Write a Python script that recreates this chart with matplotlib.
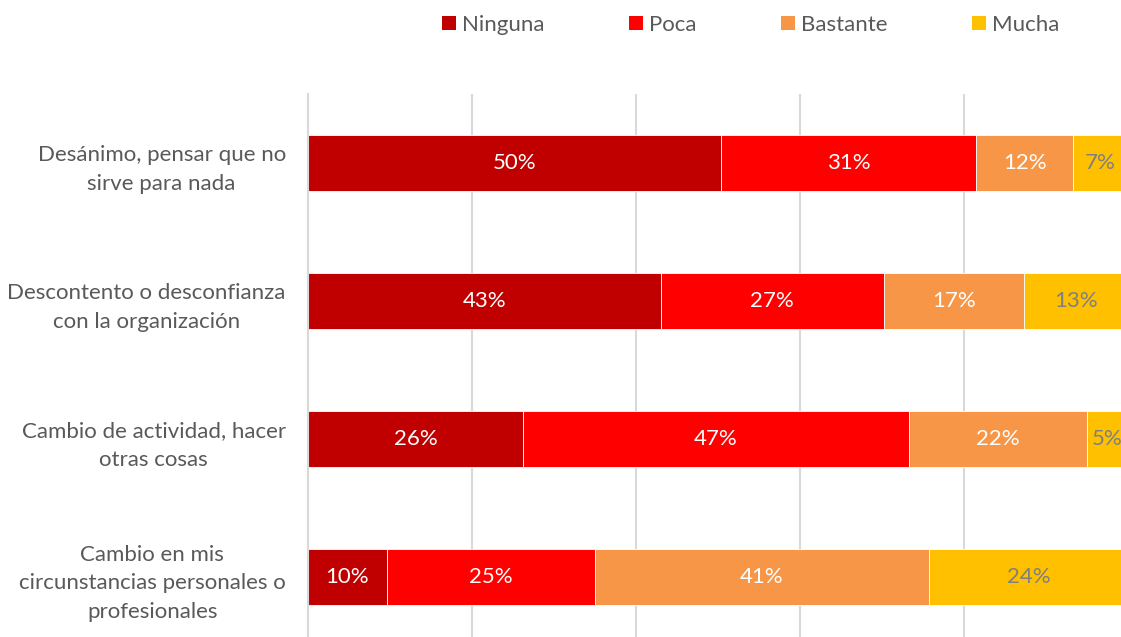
import matplotlib.pyplot as plt
from matplotlib.patches import Patch

plt.rcParams['font.family'] = ['Lato', 'DejaVu Sans']

# Datos (porcentajes por categoría)
categorias = ['Desánimo, pensar que no\nsirve para nada',
              'Descontento o desconfianza\ncon la organización',
              'Cambio de actividad, hacer\notras cosas',
              'Cambio en mis\ncircunstancias personales o\nprofesionales']
series = ['Ninguna', 'Poca', 'Bastante', 'Mucha']
ninguna = [50.4, 43.0, 26.2, 9.6]
poca = [31.1, 27.2, 47.1, 25.4]
bastante = [11.8, 17.1, 21.7, 40.7]
mucha = [6.7, 12.7, 5.0, 24.3]

colores = ['#C00000', '#FF0000', '#F79646', '#FFC000']
color_etiqueta = ['white', 'white', 'white', '#7F7F7F']
gris = '#595959'

W, H = 1121, 637
fig = plt.figure(figsize=(W / 100, H / 100), dpi=100)
# el área del gráfico sobresale un poco por la derecha y abajo, como en el original
ax = fig.add_axes([308 / W, 1 - 646 / H, 820 / W, 552 / H])

y = list(range(len(categorias)))
izq = [0] * len(categorias)
for nombre, vals, c, ce in zip(series, [ninguna, poca, bastante, mucha], colores, color_etiqueta):
    barras = ax.barh(y, vals, left=izq, height=0.4, color=c, edgecolor='white',
                     linewidth=0.6, label=nombre, zorder=2)
    ax.bar_label(barras, labels=[f'{v:.0f}%' for v in vals], label_type='center',
                 color=ce, fontsize=16)
    izq = [a + b for a, b in zip(izq, vals)]

ax.set_xlim(0, 100)
ax.set_ylim(3.5, -0.5)
ax.set_xticks([0, 20, 40, 60, 80, 100])
ax.xaxis.grid(True, color='#D9D9D9', linewidth=1.5, zorder=0)
ax.tick_params(axis='x', length=0, labelbottom=False)
ax.tick_params(axis='y', length=0, pad=16)
ax.set_yticks(y)
ax.set_yticklabels(categorias, fontsize=16, color=gris, multialignment='center',
                   linespacing=1.55)
for s in ['top', 'right', 'bottom']:
    ax.spines[s].set_visible(False)
ax.spines['left'].set_color('#D9D9D9')
ax.spines['left'].set_linewidth(1.5)

manejadores = [Patch(facecolor=c, label=n) for n, c in zip(series, colores)]
fig.legend(handles=manejadores, loc='center', bbox_to_anchor=(751 / W, 1 - 25 / H),
           ncol=4, frameon=False, fontsize=16, labelcolor=gris, handlelength=0.6,
           handleheight=0.6, handletextpad=0.3, columnspacing=3.8)

fig.savefig('out.png', dpi=100)
